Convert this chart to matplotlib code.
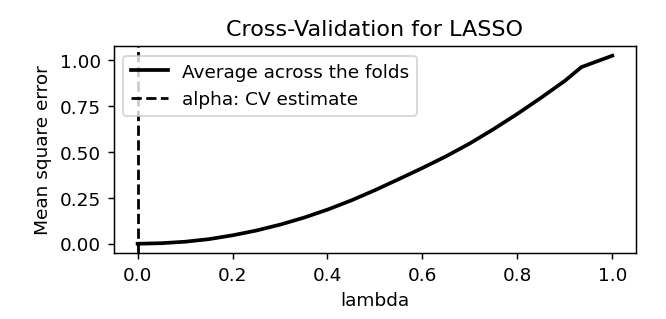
import matplotlib
matplotlib.use("Agg")
import matplotlib.pyplot as plt

# values
lambdas = [0.00, 0.05, 0.10, 0.15, 0.20, 0.25, 0.30, 0.35, 0.40, 0.45, 0.50,
           0.55, 0.60, 0.65, 0.70, 0.75, 0.80, 0.85, 0.90, 0.935, 1.00]
mse = [0.000, 0.003, 0.011, 0.025, 0.046, 0.072, 0.104, 0.142, 0.186, 0.236, 0.292,
       0.352, 0.413, 0.477, 0.547, 0.625, 0.708, 0.796, 0.888, 0.963, 1.025]
alpha_cv = 0.0

# small figure rendered at a higher dpi so text and lines come out larger
fig, ax = plt.subplots(figsize=(5.0, 2.4), dpi=133.2)

ax.plot(lambdas, mse, color='black', linewidth=2, label='Average across the folds')
ax.axvline(alpha_cv, color='black', linestyle='--', label='alpha: CV estimate')

ax.set_title('Cross-Validation for LASSO')
ax.set_xlabel('lambda')
ax.set_ylabel('Mean square error')
ax.legend(loc='upper left')

plt.subplots_adjust(left=0.171, right=0.955, top=0.853, bottom=0.206)
plt.savefig('out.png', dpi=133.2)
